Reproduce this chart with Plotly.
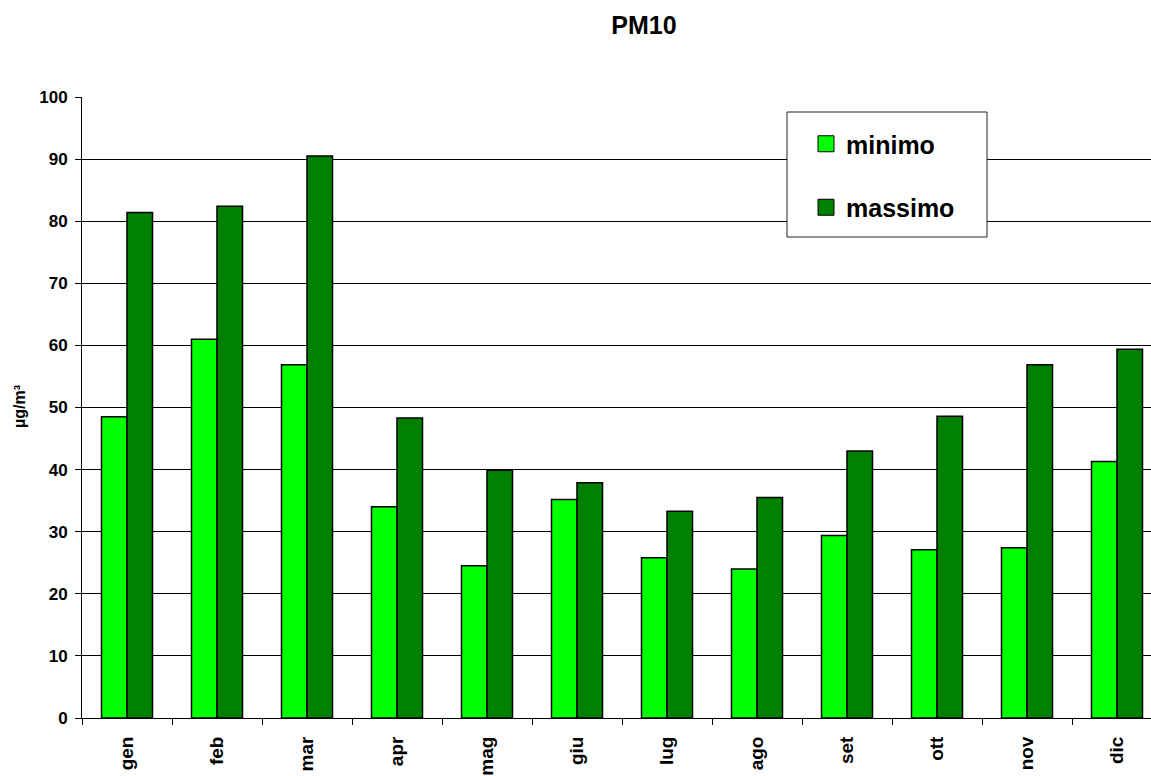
import plotly.graph_objects as go

months = ["gen", "feb", "mar", "apr", "mag", "giu", "lug", "ago", "set", "ott", "nov", "dic"]
minimo = [48.5, 61.0, 56.9, 34.0, 24.5, 35.2, 25.8, 24.0, 29.4, 27.1, 27.4, 41.3]
massimo = [81.4, 82.4, 90.5, 48.3, 39.9, 37.9, 33.3, 35.5, 43.0, 48.6, 56.9, 59.4]
y_ticks = [0, 10, 20, 30, 40, 50, 60, 70, 80, 90, 100]

LIGHT = "#00FF00"
DARK = "#008000"
FONT = "Arial, Liberation Sans, sans-serif"

W, H = 1151, 776
L, R, T, B = 82, 0, 97, 58
pw, ph = W - L - R, H - T - B

def px_x(x):
    return (x - L) / pw

def px_y(y):
    return (H - B - y) / ph

fig = go.Figure()
fig.add_bar(x=months, y=minimo, name="minimo", marker=dict(color=LIGHT, line=dict(color="black", width=1.5)),
            showlegend=False)
fig.add_bar(x=months, y=massimo, name="massimo", marker=dict(color=DARK, line=dict(color="black", width=1.5)),
            showlegend=False)

# legend entries with larger square swatches
for name, col, grp in [("minimo", LIGHT, "a"), ("massimo", DARK, "b")]:
    fig.add_scatter(x=[None], y=[None], mode="markers", name=f"<b>{name}</b>", legendgroup=grp,
                    marker=dict(symbol="square", size=16, color=col, line=dict(color="black", width=1)))

# legend frame
fig.add_shape(type="rect", xref="paper", yref="paper",
              x0=px_x(787), x1=px_x(987), y0=px_y(237), y1=px_y(112),
              line=dict(color="#222222", width=1), fillcolor="white", layer="above")

fig.add_annotation(text="<b>µg/m³</b>", xref="paper", yref="paper", x=px_x(19), y=px_y(407),
                   textangle=-90, showarrow=False, font=dict(family=FONT, size=16, color="black"),
                   xanchor="center", yanchor="middle")

fig.update_layout(
    width=W, height=H,
    margin=dict(l=L, r=R, t=T, b=B, autoexpand=False),
    paper_bgcolor="white", plot_bgcolor="white",
    font=dict(family=FONT, color="black"),
    title=dict(text="<b>PM10</b>", x=644 / W, xref="container", xanchor="center",
               y=1 - 25 / H, yref="container", yanchor="middle",
               font=dict(family=FONT, size=25, color="black")),
    barmode="group", bargap=0.433, bargroupgap=0,
    legend=dict(x=px_x(806), y=px_y(121), xanchor="left", yanchor="top",
                bgcolor="rgba(0,0,0,0)", borderwidth=0, tracegroupgap=28,
                font=dict(family=FONT, size=25, color="black"), traceorder="grouped"),
    showlegend=True,
)

fig.update_xaxes(range=[-0.5, -0.5 + pw / 90], showline=True, linecolor="black", linewidth=1,
                 ticks="outside", ticklen=6, tickcolor="black", tickson="boundaries",
                 tickangle=-90, ticklabelstandoff=10, automargin=False,
                 tickfont=dict(family=FONT, size=19, color="black"),
                 tickvals=list(range(len(months))), ticktext=[f"<b>{m}</b>" for m in months],
                 showgrid=False, zeroline=False)
fig.update_yaxes(range=[0, 100], tickvals=y_ticks, ticktext=[f"<b>{v}</b>" for v in y_ticks],
                 showline=True, linecolor="black", linewidth=1, ticks="outside", ticklen=6,
                 tickcolor="black", ticklabelstandoff=4, automargin=False,
                 tickfont=dict(family=FONT, size=17, color="black"),
                 showgrid=True, gridcolor="black", gridwidth=1, zeroline=False)

fig.write_html("out.html")
